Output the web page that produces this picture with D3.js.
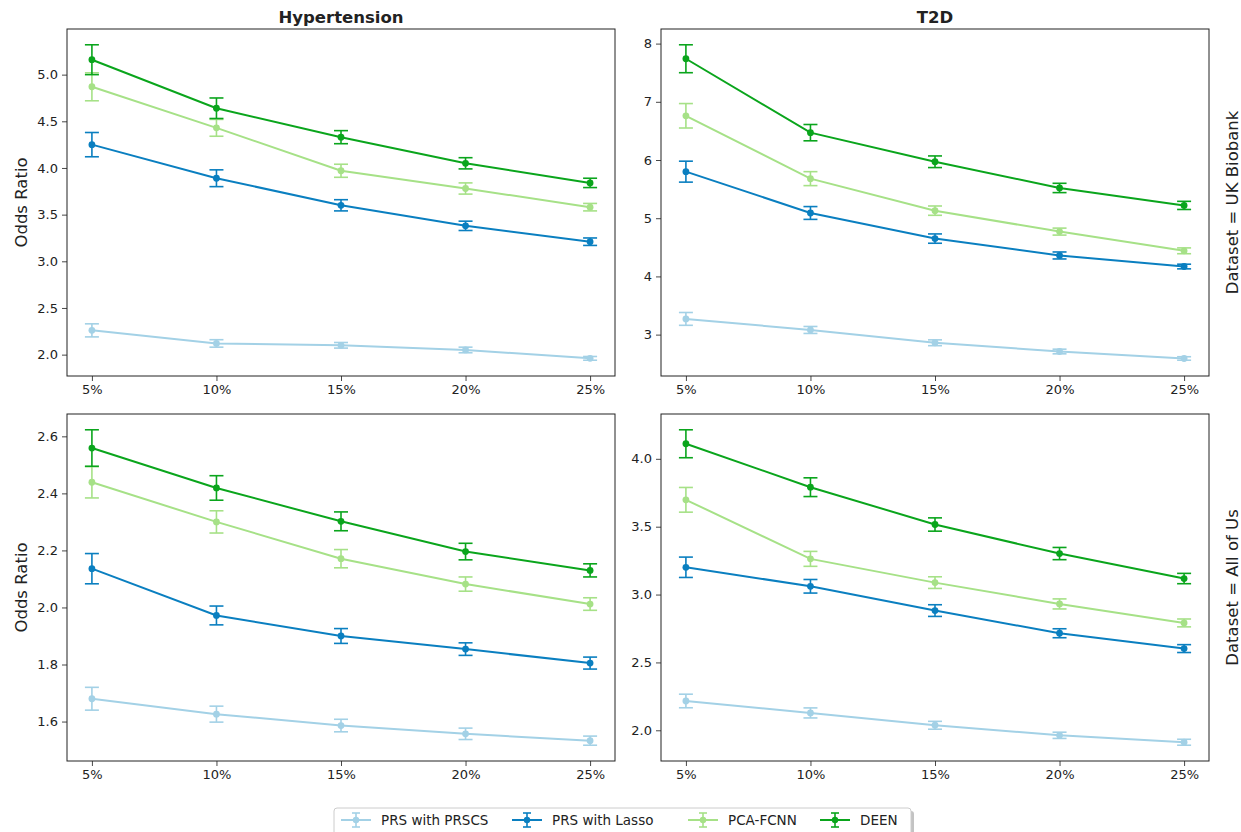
<!DOCTYPE html>
<html>
<head>
<meta charset="utf-8">
<script src="https://cdn.jsdelivr.net/npm/d3@7"></script>
<style>
  body { margin: 0; background: #fff; }
  svg text { font-family: 'DejaVu Sans', sans-serif; fill: #222; }
</style>
</head>
<body>
<svg id="chart" width="1241" height="832"></svg>
<script>
// --- Data ---
const thresholds = ["5%", "10%", "15%", "20%", "25%"];
const diseases = ["Hypertension", "T2D"];
const datasets = ["UK Biobank", "All of Us"];
const methods = ["PRS with PRSCS", "PRS with Lasso", "PCA-FCNN", "DEEN"];
const methodColors = ["#a3d1e6", "#0a7fc0", "#a6e187", "#0aa51c"];

// Hypertension, UK Biobank
const htnUkbMean = [
  [2.26, 2.12, 2.10, 2.05, 1.96],
  [4.25, 3.89, 3.60, 3.38, 3.21],
  [4.87, 4.43, 3.97, 3.78, 3.58],
  [5.16, 4.64, 4.33, 4.05, 3.84]
];
const htnUkbErr = [
  [0.07, 0.04, 0.03, 0.03, 0.02],
  [0.13, 0.09, 0.06, 0.05, 0.04],
  [0.15, 0.09, 0.07, 0.06, 0.04],
  [0.16, 0.11, 0.07, 0.06, 0.05]
];
// T2D, UK Biobank
const t2dUkbMean = [
  [3.27, 3.08, 2.86, 2.71, 2.59],
  [5.80, 5.09, 4.65, 4.36, 4.17],
  [6.76, 5.68, 5.13, 4.77, 4.44],
  [7.74, 6.47, 5.97, 5.52, 5.22]
];
const t2dUkbErr = [
  [0.11, 0.06, 0.05, 0.04, 0.03],
  [0.18, 0.11, 0.08, 0.06, 0.04],
  [0.21, 0.12, 0.08, 0.06, 0.05],
  [0.24, 0.14, 0.10, 0.08, 0.07]
];
// Hypertension, All of Us
const htnAouMean = [
  [1.680, 1.626, 1.586, 1.557, 1.533],
  [2.136, 1.972, 1.900, 1.854, 1.805],
  [2.439, 2.300, 2.171, 2.082, 2.012],
  [2.559, 2.419, 2.302, 2.196, 2.130]
];
const htnAouErr = [
  [0.040, 0.028, 0.022, 0.020, 0.016],
  [0.053, 0.033, 0.026, 0.022, 0.021],
  [0.055, 0.039, 0.032, 0.025, 0.022],
  [0.064, 0.043, 0.033, 0.029, 0.023]
];
// T2D, All of Us
const t2dAouMean = [
  [2.216, 2.128, 2.037, 1.963, 1.912],
  [3.201, 3.061, 2.882, 2.715, 2.602],
  [3.698, 3.263, 3.088, 2.931, 2.791],
  [4.111, 3.791, 3.516, 3.302, 3.118]
];
const t2dAouErr = [
  [0.050, 0.037, 0.029, 0.023, 0.022],
  [0.075, 0.050, 0.043, 0.033, 0.029],
  [0.091, 0.055, 0.043, 0.037, 0.029],
  [0.103, 0.069, 0.049, 0.045, 0.038]
];

const htnUkbTicks = [2.0, 2.5, 3.0, 3.5, 4.0, 4.5, 5.0];
const t2dUkbTicks = [3, 4, 5, 6, 7, 8];
const htnAouTicks = [1.6, 1.8, 2.0, 2.2, 2.4, 2.6];
const t2dAouTicks = [2.0, 2.5, 3.0, 3.5, 4.0];

const panels = [
  { row: 0, col: 0, mean: htnUkbMean, err: htnUkbErr, ticks: htnUkbTicks, fmt: d3.format(".1f") },
  { row: 0, col: 1, mean: t2dUkbMean, err: t2dUkbErr, ticks: t2dUkbTicks, fmt: d3.format("d") },
  { row: 1, col: 0, mean: htnAouMean, err: htnAouErr, ticks: htnAouTicks, fmt: d3.format(".1f") },
  { row: 1, col: 1, mean: t2dAouMean, err: t2dAouErr, ticks: t2dAouTicks, fmt: d3.format(".1f") }
];

// --- Layout ---
const colX = [67, 661];
const rowY = [29, 414];
const PW = 548, PH = 347;

const svg = d3.select("#chart");

panels.forEach(p => {
  const g = svg.append("g").attr("transform", `translate(${colX[p.col]},${rowY[p.row]})`);

  // matplotlib-like 5% margins on the x range
  const span = PW / 1.1;
  const x = d3.scalePoint().domain(thresholds).range([(PW - span) / 2, (PW + span) / 2]);

  let lo = Infinity, hi = -Infinity;
  p.mean.forEach((s, i) => s.forEach((v, j) => {
    lo = Math.min(lo, v - p.err[i][j]);
    hi = Math.max(hi, v + p.err[i][j]);
  }));
  const pad = (hi - lo) * 0.05;
  const y = d3.scaleLinear().domain([lo - pad, hi + pad]).range([PH, 0]);

  // axes
  const xAxis = g.append("g").attr("transform", `translate(0,${PH})`)
    .call(d3.axisBottom(x).tickSize(5).tickPadding(4));
  const yAxis = g.append("g")
    .call(d3.axisLeft(y).tickValues(p.ticks).tickFormat(p.fmt).tickSize(5).tickPadding(4));
  [xAxis, yAxis].forEach(a => {
    a.select(".domain").remove();
    a.selectAll(".tick line").attr("stroke", "#333").attr("stroke-width", 0.9);
    a.selectAll(".tick text").style("font-size", "13px").attr("fill", "#222");
  });

  // series
  const line = d3.line().x((d, j) => x(thresholds[j])).y(d => y(d));
  p.mean.forEach((s, i) => {
    const c = methodColors[i];
    const sg = g.append("g");
    sg.selectAll("line.eb").data(s).join("line")
      .attr("x1", (d, j) => x(thresholds[j])).attr("x2", (d, j) => x(thresholds[j]))
      .attr("y1", (d, j) => y(d - p.err[i][j])).attr("y2", (d, j) => y(d + p.err[i][j]))
      .attr("stroke", c).attr("stroke-width", 1.6);
    [-1, 1].forEach(sign => {
      sg.selectAll(null).data(s).join("line")
        .attr("x1", (d, j) => x(thresholds[j]) - 7).attr("x2", (d, j) => x(thresholds[j]) + 7)
        .attr("y1", (d, j) => y(d + sign * p.err[i][j])).attr("y2", (d, j) => y(d + sign * p.err[i][j]))
        .attr("stroke", c).attr("stroke-width", 1.6);
    });
    sg.append("path").datum(s).attr("d", line)
      .attr("fill", "none").attr("stroke", c).attr("stroke-width", 2);
    sg.selectAll("circle").data(s).join("circle")
      .attr("cx", (d, j) => x(thresholds[j])).attr("cy", d => y(d))
      .attr("r", 3.4).attr("fill", c);
  });

  g.append("rect").attr("width", PW).attr("height", PH)
    .attr("fill", "none").attr("stroke", "#222").attr("stroke-width", 1);

  if (p.row === 0) {
    g.append("text").attr("x", PW / 2).attr("y", -6).attr("text-anchor", "middle")
      .style("font-size", "16.5px").style("font-weight", "bold").attr("fill", "#000")
      .text(diseases[p.col]);
  }
  if (p.col === 0) {
    g.append("text").attr("transform", `translate(-40,${PH / 2}) rotate(-90)`)
      .attr("text-anchor", "middle").style("font-size", "16.5px")
      .text("Odds Ratio");
  }
  if (p.col === 1) {
    g.append("text").attr("transform", `translate(${PW + 29},${PH / 2}) rotate(-90)`)
      .attr("text-anchor", "middle").style("font-size", "16.5px")
      .text("Dataset = " + datasets[p.row]);
  }
});

// --- Legend ---
const lg = svg.append("g").attr("transform", "translate(334,808)");
lg.append("rect").attr("x", 3).attr("y", 3).attr("width", 577).attr("height", 40)
  .attr("fill", "#888").attr("opacity", 0.5).attr("rx", 3);
lg.append("rect").attr("x", 0).attr("y", 0).attr("width", 577).attr("height", 40)
  .attr("fill", "#fff").attr("stroke", "#ccc").attr("stroke-width", 1).attr("rx", 3);
const itemX = [7, 178, 354, 486];
methods.forEach((m, i) => {
  const c = methodColors[i];
  const it = lg.append("g").attr("transform", `translate(${itemX[i]},12)`);
  it.append("line").attr("x1", 0).attr("x2", 30).attr("y1", 0).attr("y2", 0)
    .attr("stroke", c).attr("stroke-width", 2);
  it.append("line").attr("x1", 15).attr("x2", 15).attr("y1", -7).attr("y2", 7)
    .attr("stroke", c).attr("stroke-width", 1.6);
  [-7, 7].forEach(dy => it.append("line").attr("x1", 11).attr("x2", 19).attr("y1", dy).attr("y2", dy)
    .attr("stroke", c).attr("stroke-width", 1.6));
  it.append("circle").attr("cx", 15).attr("cy", 0).attr("r", 3.2).attr("fill", c);
  it.append("text").attr("x", 40).attr("y", 5).style("font-size", "13.5px").text(m);
});
</script>
</body>
</html>
